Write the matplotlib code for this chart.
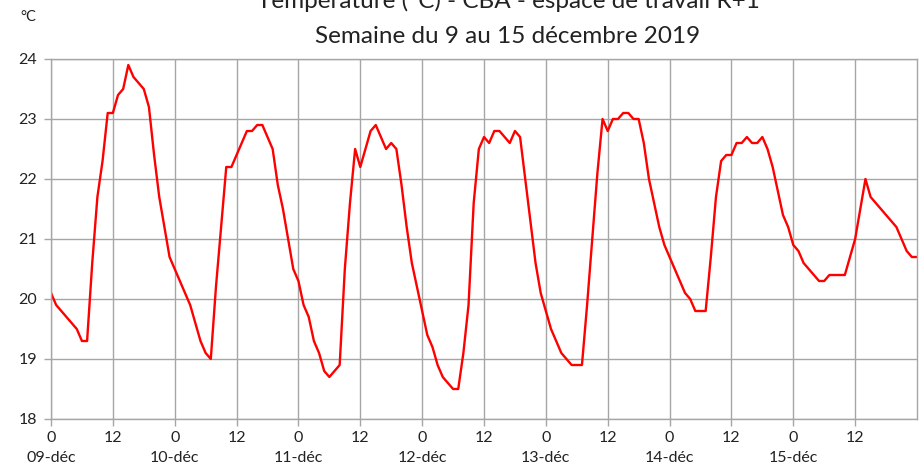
import matplotlib
matplotlib.use("Agg")
from matplotlib import pyplot as plt
from matplotlib.transforms import blended_transform_factory
import numpy as np

plt.rcParams['font.family'] = ['Lato', 'DejaVu Sans']

# hourly readings, one list per day (0h .. 23h)
t_09 = [20.1, 19.9, 19.8, 19.7, 19.6, 19.5, 19.3, 19.3, 20.6, 21.7, 22.3, 23.1,
        23.1, 23.4, 23.5, 23.9, 23.7, 23.6, 23.5, 23.2, 22.4, 21.7, 21.2, 20.7]
t_10 = [20.5, 20.3, 20.1, 19.9, 19.6, 19.3, 19.1, 19.0, 20.2, 21.2, 22.2, 22.2,
        22.4, 22.6, 22.8, 22.8, 22.9, 22.9, 22.7, 22.5, 21.9, 21.5, 21.0, 20.5]
t_11 = [20.3, 19.9, 19.7, 19.3, 19.1, 18.8, 18.7, 18.8, 18.9, 20.5, 21.6, 22.5,
        22.2, 22.5, 22.8, 22.9, 22.7, 22.5, 22.6, 22.5, 21.9, 21.2, 20.6, 20.2]
t_12 = [19.8, 19.4, 19.2, 18.9, 18.7, 18.6, 18.5, 18.5, 19.1, 19.9, 21.6, 22.5,
        22.7, 22.6, 22.8, 22.8, 22.7, 22.6, 22.8, 22.7, 22.0, 21.3, 20.6, 20.1]
t_13 = [19.8, 19.5, 19.3, 19.1, 19.0, 18.9, 18.9, 18.9, 19.9, 21.0, 22.1, 23.0,
        22.8, 23.0, 23.0, 23.1, 23.1, 23.0, 23.0, 22.6, 22.0, 21.6, 21.2, 20.9]
t_14 = [20.7, 20.5, 20.3, 20.1, 20.0, 19.8, 19.8, 19.8, 20.7, 21.7, 22.3, 22.4,
        22.4, 22.6, 22.6, 22.7, 22.6, 22.6, 22.7, 22.5, 22.2, 21.8, 21.4, 21.2]
t_15 = [20.9, 20.8, 20.6, 20.5, 20.4, 20.3, 20.3, 20.4, 20.4, 20.4, 20.4, 20.7,
        21.0, 21.5, 22.0, 21.7, 21.6, 21.5, 21.4, 21.3, 21.2, 21.0, 20.8, 20.7]
t_end = [20.7]

days = ['09-déc', '10-déc', '11-déc', '12-déc', '13-déc', '14-déc', '15-déc']
hour_labels = ['0', '12']

temps = t_09 + t_10 + t_11 + t_12 + t_13 + t_14 + t_15 + t_end
hours = np.arange(len(temps))

fig = plt.figure(figsize=(9.21, 4.67), dpi=100)
ax = fig.add_axes([51/921, 1-419/467, 866/921, 360/467])

ax.plot(hours, temps, color='#ff0000', linewidth=1.7, solid_joinstyle='round')

ax.set_xlim(0, 168)
ax.set_ylim(18, 24)
ax.set_yticks(range(18, 25))
ax.set_xticks(range(0, 168, 12))
ax.set_xticklabels([hour_labels[i % 2] for i in range(len(range(0, 168, 12)))])

grid_c = '#a6a6a6'
ax.grid(True, color=grid_c, linewidth=1)
for s in ['top', 'right', 'left', 'bottom']:
    ax.spines[s].set_color(grid_c)
    ax.spines[s].set_linewidth(1)
ax.tick_params(axis='both', colors=grid_c, labelcolor='#222222', labelsize=11.5,
               length=5, width=1)
ax.tick_params(axis='x', pad=4)
ax.tick_params(axis='y', pad=5)

trans = blended_transform_factory(ax.transData, ax.transAxes)
for i, d in enumerate(days):
    ax.text(i*24, -0.108, d, transform=trans, ha='center', va='center',
            fontsize=11.5, color='#222222')

fig.text(0.022, 1-17/467, '°C', fontsize=10.5, color='#222222', va='center')
fig.text(508/921, 1-8/467, 'Température (°C) - CBA - espace de travail R+1',
         ha='center', va='baseline', fontsize=17.5, color='#222222')
fig.text(508/921, 1-43/467, 'Semaine du 9 au 15 décembre 2019',
         ha='center', va='baseline', fontsize=17.5, color='#222222')

fig.savefig('out.png', dpi=100)
